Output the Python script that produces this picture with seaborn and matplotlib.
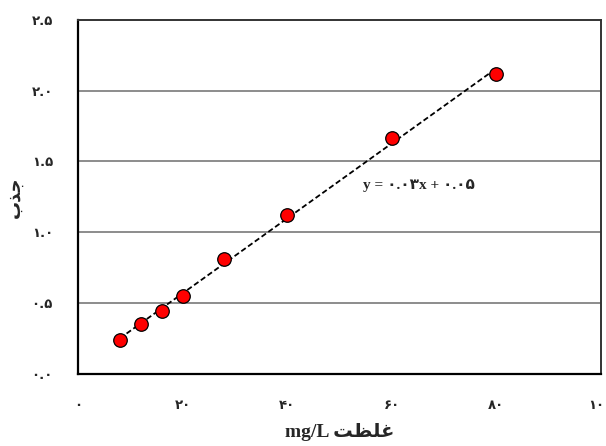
import numpy as np
import pandas as pd
import matplotlib
matplotlib.use("Agg")
import matplotlib.pyplot as plt
import seaborn as sns

# Data
concentration = [8, 12, 16, 20, 28, 40, 60, 80]
absorbance = [0.238, 0.351, 0.445, 0.551, 0.808, 1.122, 1.664, 2.116]

x_ticks = [0, 20, 40, 60, 80, 100]
x_tick_labels = ["۰", "۲۰", "۴۰", "۶۰", "۸۰", "۱۰۰"]
y_ticks = [0.0, 0.5, 1.0, 1.5, 2.0, 2.5]
y_tick_labels = ["۰.۰", "۰.۵", "۱.۰", "۱.۵", "۲.۰", "۲.۵"]

# Arabic-script labels in visual (left-to-right) order with presentation forms
x_label = "mg/L " + "\uFE96\uFEC8\uFEE0\uFECF"   # غلظت mg/L
y_label = "\uFE8F\uFEAC\uFE9F"                    # جذب
equation = "y = ۰.۰۳x + ۰.۰۵"

df = pd.DataFrame({"conc": concentration, "abs": absorbance})

sns.set_style("white")
plt.rcParams["font.family"] = ["Liberation Serif", "DejaVu Sans"]
fam = ["Liberation Serif", "DejaVu Sans"]

fig = plt.figure(figsize=(6.06, 4.46), dpi=100)
ax = fig.add_axes([0.1287, 0.1621, 0.9913 - 0.1287, 0.9552 - 0.1621])

sns.regplot(data=df, x="conc", y="abs", ax=ax, scatter=False, ci=None,
            truncate=True,
            line_kws=dict(color="black", linestyle=(0, (3, 1.6)), linewidth=1.3, zorder=2))
sns.scatterplot(data=df, x="conc", y="abs", ax=ax, s=95, color="#ff0000",
                edgecolor="black", linewidth=0.9, zorder=3, legend=False)

ax.set_xlim(0, 100)
ax.set_ylim(0, 2.5)
ax.set_xticks(x_ticks)
ax.set_xticklabels(x_tick_labels, fontfamily=["DejaVu Sans"], fontweight="bold", fontsize=9.5)
ax.set_yticks(y_ticks)
ax.set_yticklabels(y_tick_labels, fontfamily=["DejaVu Sans"], fontweight="bold", fontsize=9.5)

for yv in y_ticks[1:-1]:
    ax.axhline(yv, color="#8c8c8c", linewidth=1.4, zorder=1)

for side in ["left", "bottom"]:
    ax.spines[side].set_color("black")
    ax.spines[side].set_linewidth(1.6)
for side in ["top", "right"]:
    ax.spines[side].set_visible(True)
    ax.spines[side].set_color("#333333")
    ax.spines[side].set_linewidth(1.4)

ax.tick_params(axis="x", direction="out", length=5, width=1.3, color="black", pad=13)
ax.tick_params(axis="y", direction="out", length=4, width=1.3, color="black", pad=14)

ax.set_xlabel(x_label, fontfamily=fam, fontweight="bold", fontsize=14, labelpad=8)
ax.set_ylabel(y_label, fontfamily=["DejaVu Sans"], fontweight="bold", fontsize=13, labelpad=6)

ax.text(54.5, 1.33, equation, fontfamily=fam, fontweight="bold", fontsize=11,
        ha="left", va="center")

fig.savefig("out.png", dpi=100)
